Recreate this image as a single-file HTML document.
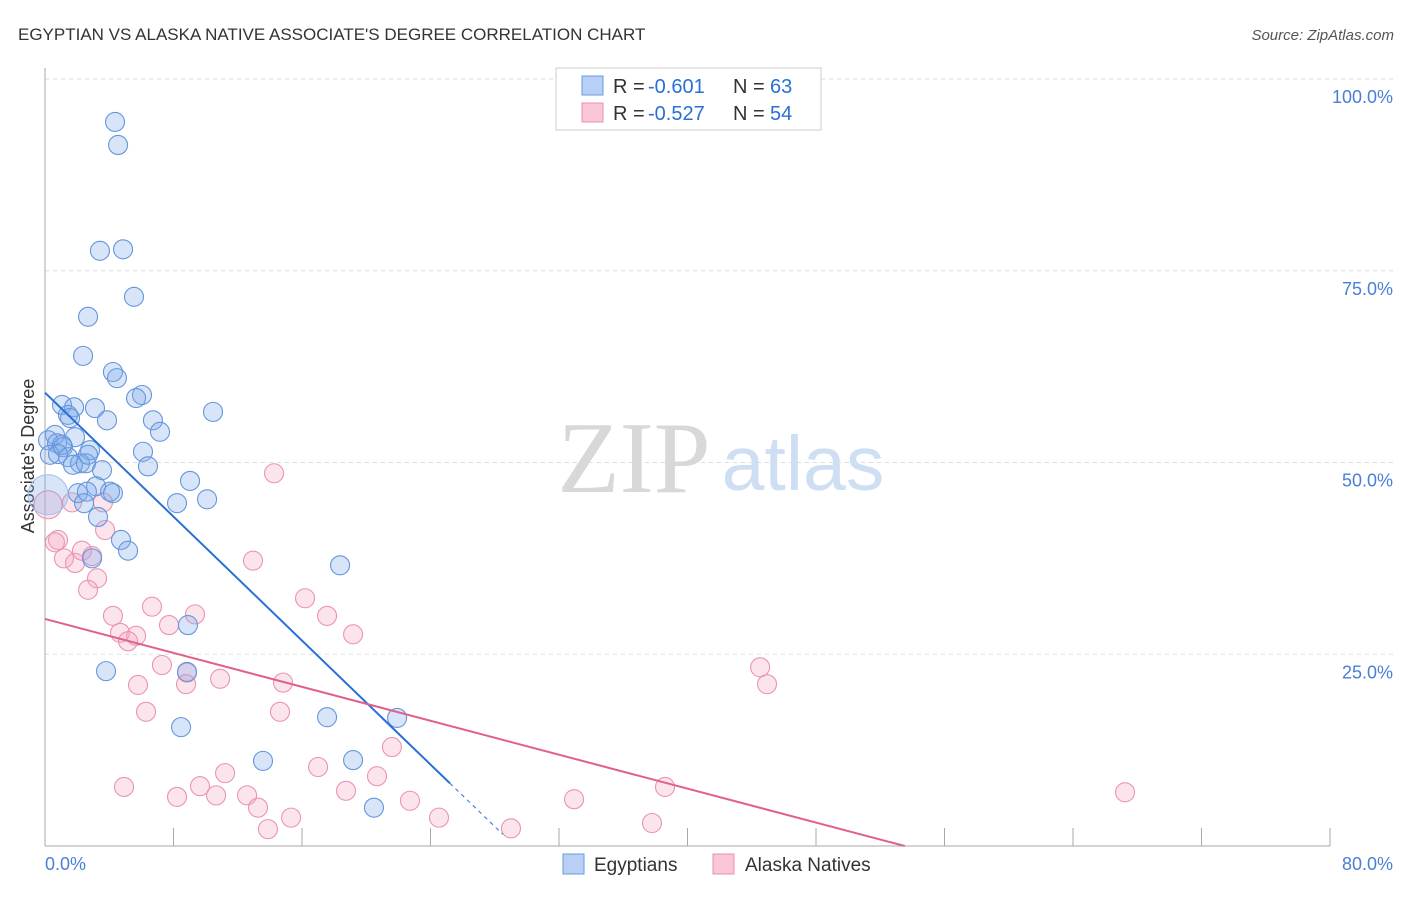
<!DOCTYPE html>
<html><head><meta charset="utf-8"><style>
body{margin:0;background:#fff;font-family:"Liberation Sans",sans-serif;}
</style></head><body>
<svg width="1406" height="892" viewBox="0 0 1406 892" xmlns="http://www.w3.org/2000/svg">
<text x="18" y="40" font-size="17" fill="#333">EGYPTIAN VS ALASKA NATIVE ASSOCIATE'S DEGREE CORRELATION CHART</text>
<text x="1394" y="40" font-size="15" fill="#555" text-anchor="end" font-style="italic">Source: ZipAtlas.com</text>
<g id="grid"></g>
<g>
<text x="634" y="492" font-size="102" fill="#d8d8d8" font-family="Liberation Serif,serif" text-anchor="middle">ZIP</text>
<text x="803" y="490" font-size="77" fill="#cfdff3" text-anchor="middle">atlas</text>
</g>
<line x1="45" y1="68" x2="45" y2="846" stroke="#aaa"/>
<line x1="45" y1="846" x2="1330" y2="846" stroke="#aaa"/>
<g id="xticks"></g>
<g id="ylabels"></g>
<text x="45" y="870" font-size="18" fill="#4a7fd6">0.0%</text>
<text x="1393" y="870" font-size="18" fill="#4a7fd6" text-anchor="end">80.0%</text>
<text transform="translate(34,456) rotate(-90)" font-size="18" fill="#333" text-anchor="middle">Associate's Degree</text>
<g id="pinkpts"></g>
<g id="bluepts"></g>
<g id="trends"></g>
<g font-size="20">
<rect x="556" y="68" width="265" height="62" fill="#fff" stroke="#ccc"/>
<rect x="582" y="76" width="21" height="19" fill="#b8d0f4" stroke="#6a9ae0"/>
<rect x="582" y="103" width="21" height="19" fill="#f9c6d5" stroke="#e890ad"/>
<text x="613" y="93" fill="#333">R =</text><text x="648" y="93" fill="#2a6fd6">-0.601</text>
<text x="733" y="93" fill="#333">N =</text><text x="770" y="93" fill="#2a6fd6">63</text>
<text x="613" y="120" fill="#333">R =</text><text x="648" y="120" fill="#2a6fd6">-0.527</text>
<text x="733" y="120" fill="#333">N =</text><text x="770" y="120" fill="#2a6fd6">54</text>
</g>
<g>
<rect x="563" y="854" width="21" height="20" fill="#b8d0f4" stroke="#6a9ae0"/>
<text x="594" y="871" font-size="19" fill="#333">Egyptians</text>
<rect x="713" y="854" width="21" height="20" fill="#f9c6d5" stroke="#e890ad"/>
<text x="745" y="871" font-size="19" fill="#333">Alaska Natives</text>
</g>
</svg>
<script>
const blueX=[4.36,4.55,3.42,4.86,5.54,2.68,2.37,4.23,4.48,6.04,5.67,1.06,1.81,3.11,1.43,3.86,6.72,10.46,1.56,7.16,0.62,1.87,0.19,0.75,1.12,2.80,6.10,0.31,1.43,2.18,3.55,6.41,1.74,2.55,9.03,3.18,2.05,2.61,4.23,4.05,8.22,10.09,2.43,0.19,3.30,4.73,5.17,2.93,18.37,8.90,3.80,8.84,8.47,17.56,21.92,13.57,19.18,20.48,1.06,0.81,2.68];
const blueY=[94.4,91.4,77.6,77.8,71.6,69.0,63.9,61.8,61.0,58.8,58.4,57.5,57.2,57.1,56.2,55.5,55.5,56.6,55.8,54.0,53.6,53.3,52.9,52.5,52.0,51.6,51.4,51.0,50.7,49.9,49.0,49.5,49.7,49.9,47.6,46.9,46.0,46.2,46.0,46.2,44.7,45.2,44.7,45.8,42.9,39.9,38.5,37.5,36.6,28.8,22.8,22.7,15.5,16.8,16.7,11.1,11.2,5.0,52.3,51.1,51.0];
const pinkX=[0.19,0.81,0.62,1.68,3.61,3.74,1.18,1.87,2.30,2.93,3.24,2.68,14.26,12.95,4.23,6.66,9.34,7.72,4.67,5.67,5.17,16.19,17.56,19.18,7.28,8.84,5.79,8.78,10.90,14.82,6.29,14.63,44.52,44.95,21.60,17.00,11.21,20.67,4.92,9.65,8.22,12.58,18.74,10.65,13.26,15.32,13.88,22.72,24.53,29.01,32.94,38.60,37.79,67.24];
const pinkY=[44.5,39.9,39.6,44.8,44.8,41.2,37.5,36.9,38.5,37.8,34.9,33.4,48.6,37.2,30.0,31.2,30.2,28.8,27.8,27.4,26.7,32.3,30.0,27.6,23.6,22.6,21.0,21.1,21.8,21.3,17.5,17.5,23.3,21.1,12.9,10.3,9.5,9.1,7.7,7.8,6.4,6.6,7.2,6.6,5.0,3.7,2.2,5.9,3.7,2.3,6.1,7.7,3.0,7.0];
const blueTrend=[59.1,-2.02];   // intercept, slope
const pinkTrend=[29.6,-0.553];
const yTicks=[25,50,75,100];
const xTickVals=[0,8,16,24,32,40,48,56,64,72,80];
const NS='http://www.w3.org/2000/svg';
const sx=v=>45+v/80*1285, sy=v=>846-v*7.67;
function mk(t,a,p){const e=document.createElementNS(NS,t);for(const k in a)e.setAttribute(k,a[k]);p.appendChild(e);return e;}
const grid=document.getElementById('grid');
const yl=document.getElementById('ylabels');
yTicks.forEach(v=>{
 const l=mk('line',{x1:45,x2:1393,y1:sy(v),y2:sy(v),stroke:'#ddd','stroke-dasharray':'4,4'},grid);
 
 
 const t=mk('text',{x:1393,y:sy(v)+24,'font-size':18,fill:'#4a7fd6','text-anchor':'end'},yl);
 t.textContent=v.toFixed(1)+'%';
 
 
});
const xt=document.getElementById('xticks');
xTickVals.forEach(v=>{
 const l=mk('line',{x1:sx(v),x2:sx(v),y1:828,y2:846,stroke:'#aaa'},xt);
 
 
});
const pp=document.getElementById('pinkpts');
pinkX.forEach((x,i)=>{
 const c=mk('circle',{cx:sx(x),cy:sy(pinkY[i]),r:i==0?14:9.5,fill:'rgba(244,165,195,0.3)',stroke:'#ea94b2','stroke-width':1.1},pp);
 
 
});
const bp=document.getElementById('bluepts');
blueX.forEach((x,i)=>{
 const c=mk('circle',{cx:sx(x),cy:sy(blueY[i]),r:i==43?20:9.5,fill:'rgba(125,170,235,0.3)',stroke:i==43?'#a8c4ec':'#6496dc','stroke-width':1.1},bp);
 
 
});
const tr=document.getElementById('trends');
const bAt=x=>blueTrend[0]+blueTrend[1]*x, pAt=x=>pinkTrend[0]+pinkTrend[1]*x;
let l=mk('line',{x1:sx(0),y1:sy(bAt(0)),x2:sx(25.2),y2:sy(bAt(25.2)),stroke:'#2a6fd6','stroke-width':2},tr);


l=mk('line',{x1:sx(25.2),y1:sy(bAt(25.2)),x2:sx(28.5),y2:sy(bAt(28.5)),stroke:'#2a6fd6','stroke-width':1,'stroke-dasharray':'4,4'},tr);


const pEnd=-pinkTrend[0]/pinkTrend[1];
l=mk('line',{x1:sx(0),y1:sy(pAt(0)),x2:sx(pEnd),y2:sy(0),stroke:'#e0608a','stroke-width':2},tr);


</script>
</body></html>
